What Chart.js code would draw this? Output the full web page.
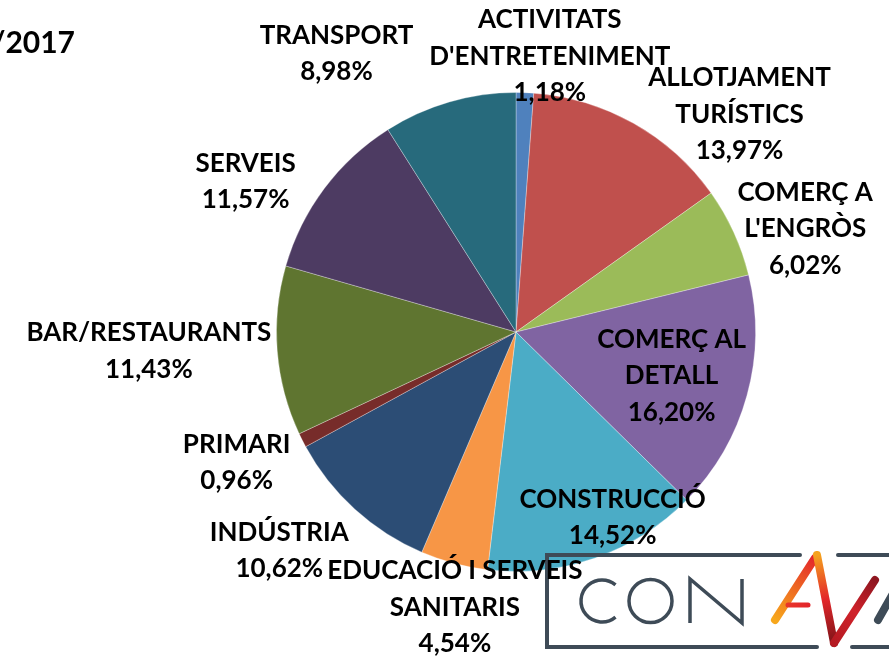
<!DOCTYPE html>
<html><head><meta charset="utf-8">
<script src="https://cdn.jsdelivr.net/npm/chart.js@4/dist/chart.umd.min.js"></script>
<style>html,body{margin:0;padding:0;background:#fff;}#wrap{width:889px;height:658px;position:relative;}</style>
</head><body><div id="wrap"><canvas id="c" width="889" height="658"></canvas></div>
<script>
const categories = ["ACTIVITATS D'ENTRETENIMENT","ALLOTJAMENT TURÍSTICS","COMERÇ A L'ENGRÒS","COMERÇ AL DETALL","CONSTRUCCIÓ","EDUCACIÓ I SERVEIS SANITARIS","INDÚSTRIA","PRIMARI","BAR/RESTAURANTS","SERVEIS","TRANSPORT"];
const values = [1.18,13.97,6.02,16.20,14.52,4.54,10.62,0.96,11.43,11.57,8.98];
const labelLines = [["ACTIVITATS","D'ENTRETENIMENT"],["ALLOTJAMENT","TURÍSTICS"],["COMERÇ A","L'ENGRÒS"],["COMERÇ AL","DETALL"],["CONSTRUCCIÓ"],["EDUCACIÓ I SERVEIS","SANITARIS"],["INDÚSTRIA"],["PRIMARI"],["BAR/RESTAURANTS"],["SERVEIS"],["TRANSPORT"]];
const titleText = "/2017";

const colors = ["#4F81BD","#C0504D","#9BBB59","#8064A2","#4BACC6","#F79646","#2C4D75","#772C2A","#5F7530","#4D3B62","#276A7C"];
// label anchor: polar position (degrees clockwise from top, fraction of radius)
const labelPolar = [[7.0,1.159],[45.8,1.302],[70.4,1.282],[105.75,0.675],[152.5,0.874],[192.5,1.178],[227.3,1.345],[244.9,1.288],[267.0,1.535],[299.1,1.292],[327.2,1.384]];
const FONT = "bold 26px Lato, 'Noto Sans', sans-serif";
const LINE_H = 36.5;

function fmt(v){ return v.toFixed(2).replace('.',',') + '%'; }

function seg(ctx, x1,y1,x2,y2, stops, w){
  const g = ctx.createLinearGradient(x1,y1,x2,y2);
  stops.forEach((c,i)=>g.addColorStop(i/(stops.length-1), c));
  ctx.strokeStyle = g; ctx.lineWidth = w;
  ctx.beginPath(); ctx.moveTo(x1,y1); ctx.lineTo(x2,y2); ctx.stroke();
}

const overlay = {
  id:'overlay',
  afterDraw(chart){
    const ctx = chart.ctx;
    const meta = chart.getDatasetMeta(0);
    const arc0 = meta.data[0];
    const cx = arc0.x, cy = arc0.y, R = arc0.outerRadius;
    ctx.save();
    // title fragment
    ctx.fillStyle = '#000';
    ctx.font = "bold 30px Lato, 'Noto Sans', sans-serif";
    ctx.textAlign = 'right'; ctx.textBaseline = 'alphabetic';
    ctx.fillText(titleText, 75, 53);

    // logo frame
    const lx = 547, ly = 555, lb = 647;
    ctx.strokeStyle = '#3e4b57'; ctx.lineWidth = 4; ctx.lineCap='round'; ctx.lineJoin='miter';
    ctx.beginPath();
    ctx.moveTo(800, ly); ctx.lineTo(lx, ly); ctx.lineTo(lx, lb); ctx.lineTo(817, lb);
    ctx.moveTo(838, ly); ctx.lineTo(895, ly);
    ctx.moveTo(852, lb); ctx.lineTo(895, lb);
    ctx.stroke();
    // "CON"
    ctx.lineWidth = 3.5; ctx.lineCap = 'butt';
    ctx.beginPath(); ctx.arc(602, 601, 21, 50*Math.PI/180, 310*Math.PI/180); ctx.stroke();
    ctx.beginPath(); ctx.arc(650.5, 601, 21.5, 0, Math.PI*2); ctx.stroke();
    ctx.beginPath(); ctx.moveTo(690,623); ctx.lineTo(690,579); ctx.lineTo(742,623); ctx.lineTo(742,579); ctx.stroke();
    // "AV" strokes
    ctx.lineCap = 'round';
    seg(ctx, 775,620, 815,558, ['#f7a71c','#ee6a22','#e3262b'], 8);
    seg(ctx, 788,605, 808,605, ['#e8352a','#e3262b'], 5);
    seg(ctx, 817,555, 834,643, ['#f5a21e','#e3262b','#7e1418'], 8);
    seg(ctx, 834,643, 875,580, ['#b51a22','#d0222a','#8e1620'], 8);
    ctx.strokeStyle = '#3e4b57'; ctx.lineWidth = 8;
    ctx.beginPath(); ctx.moveTo(878,620); ctx.lineTo(895,590); ctx.stroke();

    // labels
    ctx.fillStyle = '#000';
    ctx.font = FONT;
    ctx.textAlign = 'center'; ctx.textBaseline = 'middle';
    labelLines.forEach((lines,i)=>{
      const all = lines.concat([fmt(values[i])]);
      const a = labelPolar[i][0]*Math.PI/180, f = labelPolar[i][1];
      const x = cx + Math.sin(a)*R*f, y = cy - Math.cos(a)*R*f;
      const y0 = y - (all.length-1)*LINE_H/2;
      all.forEach((t,k)=>ctx.fillText(t, x, y0 + k*LINE_H));
    });
    ctx.restore();
  }
};

new Chart(document.getElementById('c'), {
  type:'pie',
  data:{ labels: categories, datasets:[{ data: values, backgroundColor: colors, borderWidth: 1, borderColor: 'rgba(255,255,255,0.3)' }] },
  options:{
    responsive:false, animation:false,
    layout:{ padding:{ top:92, bottom:86, left:276, right:133 } },
    plugins:{ legend:{display:false}, tooltip:{enabled:false}, title:{display:false} }
  },
  plugins:[overlay]
});
</script></body></html>
